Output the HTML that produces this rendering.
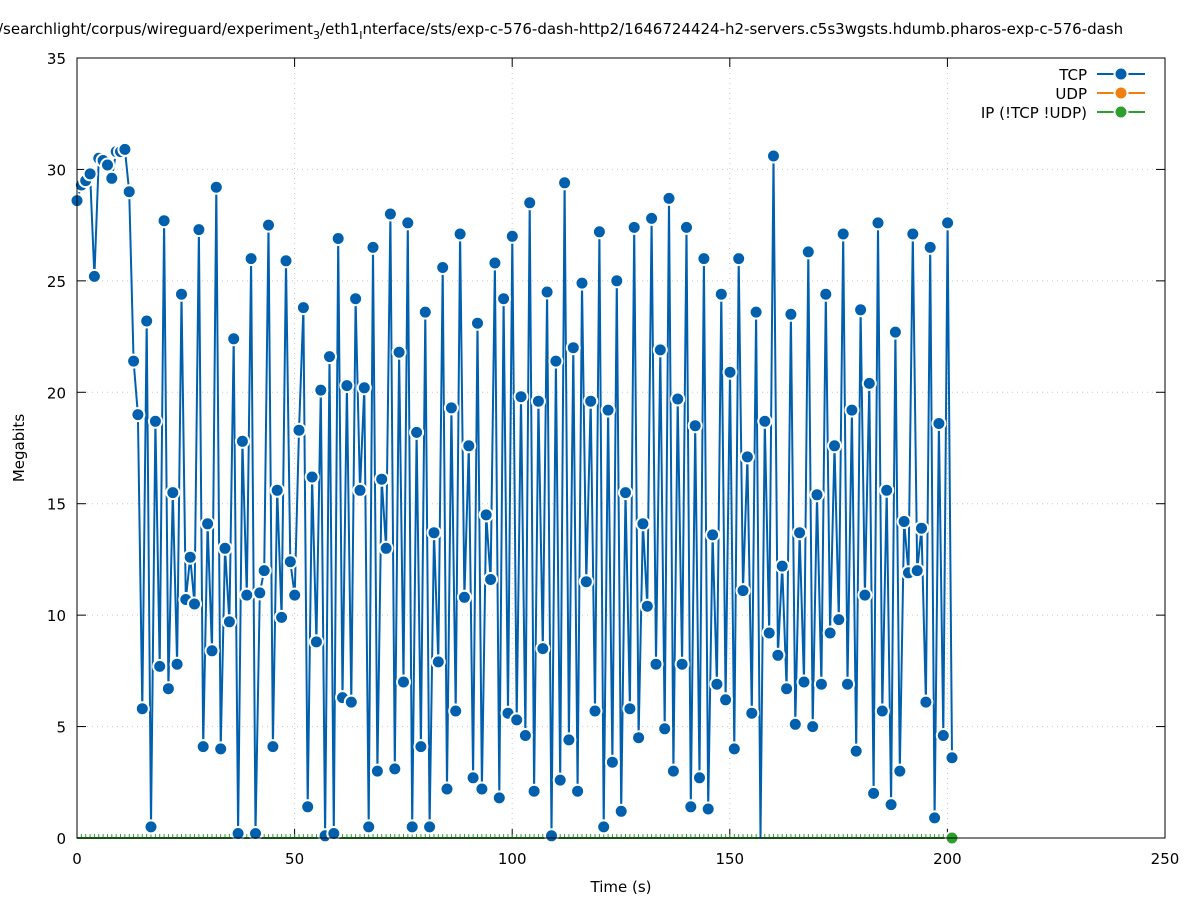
<!DOCTYPE html>
<html><head><meta charset="utf-8"><style>
body{margin:0;background:#fff}
svg{display:block}
text{font-family:"DejaVu Sans","Liberation Sans",sans-serif;font-size:15px;fill:#000}
</style></head><body>
<svg id="s" width="1197" height="900" xmlns="http://www.w3.org/2000/svg">
<rect width="1197" height="900" fill="#fff"/>
<text x="-2" y="34" font-size="16">/searchlight/corpus/wireguard/experiment<tspan font-size="11" dy="5">3</tspan><tspan dy="-5">/eth1</tspan><tspan font-size="11" dy="5">I</tspan><tspan dy="-5">nterface/sts/exp-c-576-dash-http2/1646724424-h2-servers.c5s3wgsts.hdumb.pharos-exp-c-576-dash</tspan></text>
<g id="grid" stroke="#c8c8c8" stroke-width="1" stroke-dasharray="1,4"></g>
<g id="axes"></g>
<g id="series"></g>
<rect x="77" y="58" width="1088" height="780" fill="none" stroke="#000" stroke-width="1"/>
<text transform="translate(24,448) rotate(-90)" text-anchor="middle" x="0" y="0">Megabits</text>
<text x="621" y="892" text-anchor="middle">Time (s)</text>
<g text-anchor="end">
<text x="1087" y="80">TCP</text>
<text x="1087" y="99">UDP</text>
<text x="1087" y="118">IP (!TCP  !UDP)</text>
</g>
<line x1="1097" y1="74" x2="1145" y2="74" stroke="#0060ad" stroke-width="2"/>
<circle cx="1121" cy="74" r="6.5" fill="#0060ad" stroke="#fff" stroke-width="2"/>
<line x1="1097" y1="93" x2="1145" y2="93" stroke="#f07f10" stroke-width="2"/>
<circle cx="1121" cy="93" r="6.5" fill="#f07f10" stroke="#fff" stroke-width="2"/>
<line x1="1097" y1="112" x2="1145" y2="112" stroke="#2ca02c" stroke-width="2"/>
<circle cx="1121" cy="112" r="6.5" fill="#2ca02c" stroke="#fff" stroke-width="2"/>
</svg>
<script>
var NS="http://www.w3.org/2000/svg";
function X(v){return 77+v*4.352}
function Y(v){return 838-v*22.286}
function el(p,t,a,txt){var e=document.createElementNS(NS,t);for(var k in a)e.setAttribute(k,a[k]);if(txt!=null)e.textContent=txt;p.appendChild(e);return e}
var g=document.getElementById('grid'),ax=document.getElementById('axes'),se=document.getElementById('series');
for(var v=0;v<=250;v+=50){var x=X(v);if(v>0&&v<250)el(g,'line',{x1:x,y1:58,x2:x,y2:838});
el(ax,'line',{x1:x,y1:838,x2:x,y2:829,stroke:'#000'});el(ax,'line',{x1:x,y1:58,x2:x,y2:67,stroke:'#000'});
el(ax,'text',{x:x,y:864,'text-anchor':'middle'},v);}
for(var v=0;v<=35;v+=5){var y=Y(v);if(v>0&&v<35)el(g,'line',{x1:77,y1:y,x2:1165,y2:y});
el(ax,'line',{x1:77,y1:y,x2:86,y2:y,stroke:'#000'});el(ax,'line',{x1:1165,y1:y,x2:1156,y2:y,stroke:'#000'});
el(ax,'text',{x:66,y:y+6,'text-anchor':'end'},v);}
var d=[28.6,29.3,29.5,29.8,25.2,30.5,30.4,30.2,29.6,30.8,30.8,30.9,29.0,21.4,19.0,5.8,23.2,0.5,18.7,7.7,27.7,6.7,15.5,7.8,24.4,10.7,12.6,10.5,27.3,4.1,14.1,8.4,29.2,4.0,13.0,9.7,22.4,0.2,17.8,10.9,26.0,0.2,11.0,12.0,27.5,4.1,15.6,9.9,25.9,12.4,10.9,18.3,23.8,1.4,16.2,8.8,20.1,0.1,21.6,0.2,26.9,6.3,20.3,6.1,24.2,15.6,20.2,0.5,26.5,3.0,16.1,13.0,28.0,3.1,21.8,7.0,27.6,0.5,18.2,4.1,23.6,0.5,13.7,7.9,25.6,2.2,19.3,5.7,27.1,10.8,17.6,2.7,23.1,2.2,14.5,11.6,25.8,1.8,24.2,5.6,27.0,5.3,19.8,4.6,28.5,2.1,19.6,8.5,24.5,0.1,21.4,2.6,29.4,4.4,22.0,2.1,24.9,11.5,19.6,5.7,27.2,0.5,19.2,3.4,25.0,1.2,15.5,5.8,27.4,4.5,14.1,10.4,27.8,7.8,21.9,4.9,28.7,3.0,19.7,7.8,27.4,1.4,18.5,2.7,26.0,1.3,13.6,6.9,24.4,6.2,20.9,4.0,26.0,11.1,17.1,5.6,23.6,-0.3,18.7,9.2,30.6,8.2,12.2,6.7,23.5,5.1,13.7,7.0,26.3,5.0,15.4,6.9,24.4,9.2,17.6,9.8,27.1,6.9,19.2,3.9,23.7,10.9,20.4,2.0,27.6,5.7,15.6,1.5,22.7,3.0,14.2,11.9,27.1,12.0,13.9,6.1,26.5,0.9,18.6,4.6,27.6,3.6];
var step=(952-77)/4.352/(d.length-1);
el(se,'line',{x1:X(0),y1:838,x2:952,y2:838,stroke:'#2ca02c','stroke-width':2});
for(var i=0;i<d.length;i++)el(se,'line',{x1:X(i*step),y1:838,x2:X(i*step),y2:834,stroke:'#2ca02c','stroke-width':1});
var p='';for(var i=0;i<d.length;i++){p+=(i?'L':'M')+X(i*step).toFixed(1)+','+Y(Math.max(d[i],0)).toFixed(1)}
el(se,'path',{d:p,fill:'none',stroke:'#0060ad','stroke-width':2});
for(var i=0;i<d.length;i++){if(d[i]<0)continue;el(se,'circle',{cx:X(i*step).toFixed(1),cy:Y(d[i]).toFixed(1),r:6.5,fill:'#0060ad',stroke:'#fff','stroke-width':2})}
el(se,'circle',{cx:952,cy:838,r:6.5,fill:'#2ca02c',stroke:'#fff','stroke-width':2});
</script>
</body></html>
